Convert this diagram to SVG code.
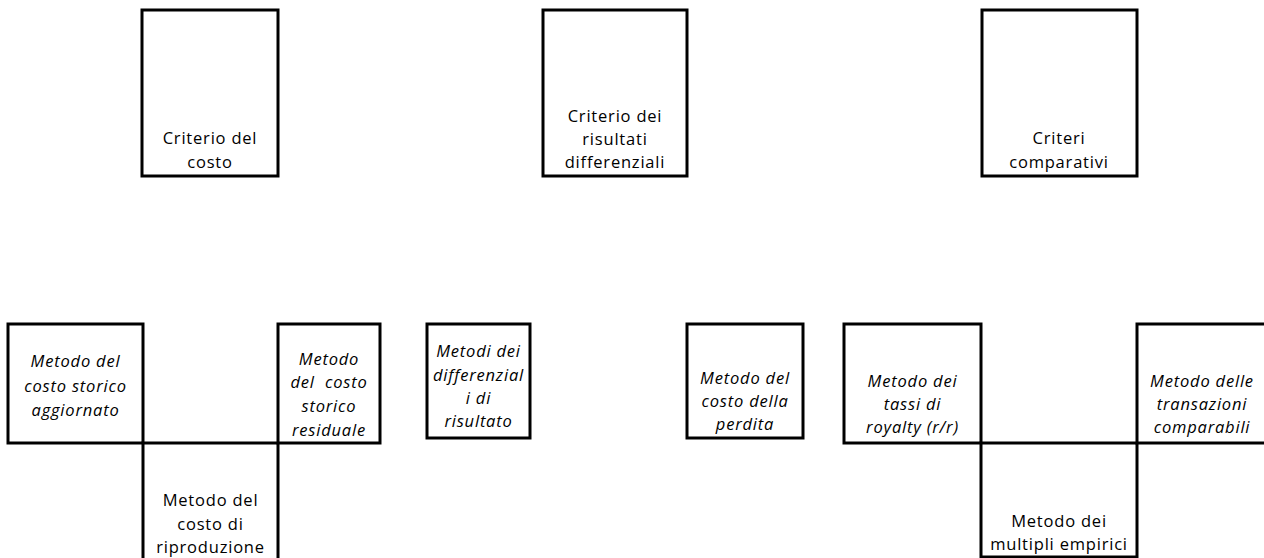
<svg xmlns="http://www.w3.org/2000/svg" width="1264" height="558" viewBox="0 0 1264 558">
<style>
.box{fill:#fff;stroke:#000;stroke-width:3}
text{font-family:"Open Sans","Liberation Sans",sans-serif;font-size:16.5px;letter-spacing:0.8px;fill:#000;text-anchor:middle}
.it{font-style:italic}
</style>
<rect width="1264" height="558" fill="#fff"/>
<g id="connectors"/>
<g id="criterio-costo">
<rect class="box" x="142" y="10" width="136" height="166"/>
<text x="210" y="144">Criterio del</text>
<text x="210" y="168">costo</text>
</g>
<g id="criterio-risultati">
<rect class="box" x="543" y="10" width="144" height="166"/>
<text x="615" y="122">Criterio dei</text>
<text x="615" y="145">risultati</text>
<text x="615" y="168">differenziali</text>
</g>
<g id="criteri-comparativi">
<rect class="box" x="982" y="10" width="155" height="166"/>
<text x="1059" y="144">Criteri</text>
<text x="1059" y="168">comparativi</text>
</g>
<g id="costo-storico-aggiornato">
<rect class="box" x="8" y="324" width="135" height="119"/>
<text class="it" x="75.5" y="367">Metodo del</text>
<text class="it" x="75.5" y="392">costo storico</text>
<text class="it" x="75.5" y="416">aggiornato</text>
</g>
<g id="costo-riproduzione">
<rect class="box" x="143" y="443" width="135" height="130"/>
<text x="210.5" y="506">Metodo del</text>
<text x="210.5" y="530">costo di</text>
<text x="210.5" y="553">riproduzione</text>
</g>
<g id="costo-storico-residuale">
<rect class="box" x="278" y="324" width="102" height="119"/>
<text class="it" x="329" y="365">Metodo</text>
<text class="it" x="329" y="388" xml:space="preserve">del  costo</text>
<text class="it" x="329" y="412">storico</text>
<text class="it" x="329" y="436">residuale</text>
</g>
<g id="differenziali-risultato">
<rect class="box" x="427" y="324" width="103" height="114"/>
<text class="it" x="478.5" y="357">Metodi dei</text>
<text class="it" x="478.5" y="381">differenzial</text>
<text class="it" x="478.5" y="404">i di</text>
<text class="it" x="478.5" y="427">risultato</text>
</g>
<g id="costo-perdita">
<rect class="box" x="687" y="324" width="116" height="114"/>
<text class="it" x="745" y="384">Metodo del</text>
<text class="it" x="745" y="407">costo della</text>
<text class="it" x="745" y="430">perdita</text>
</g>
<g id="tassi-royalty">
<rect class="box" x="844" y="324" width="137" height="119"/>
<text class="it" x="912.5" y="387">Metodo dei</text>
<text class="it" x="912.5" y="410">tassi di</text>
<text class="it" x="912.5" y="433">royalty (r/r)</text>
</g>
<g id="multipli-empirici">
<rect class="box" x="981" y="443" width="156" height="114"/>
<text x="1059" y="527">Metodo dei</text>
<text x="1059" y="550">multipli empirici</text>
</g>
<g id="transazioni-comparabili">
<rect class="box" x="1137" y="324" width="140" height="119"/>
<text class="it" x="1202" y="387">Metodo delle</text>
<text class="it" x="1202" y="410">transazioni</text>
<text class="it" x="1202" y="433">comparabili</text>
</g>
</svg>
